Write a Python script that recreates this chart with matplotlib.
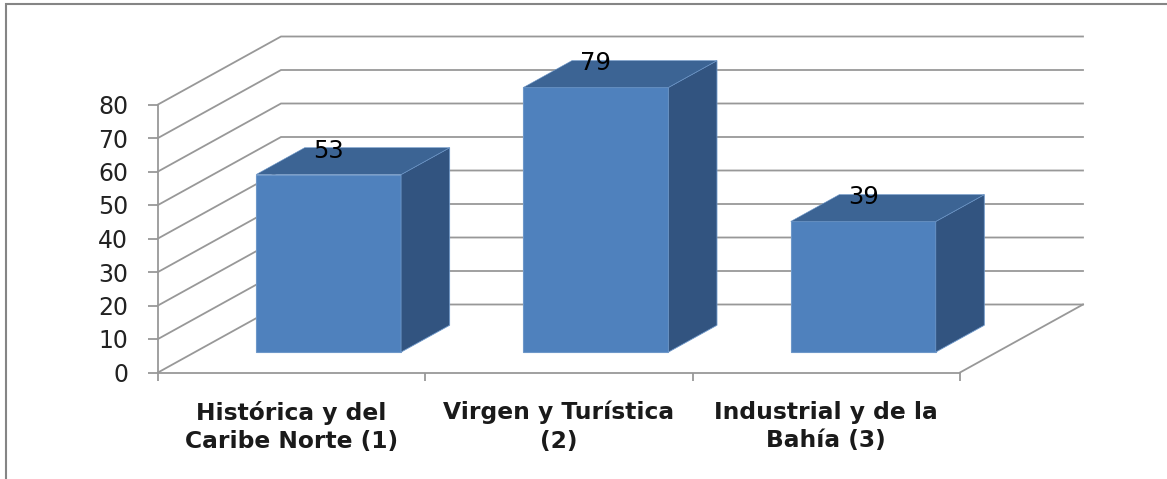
import numpy as np
import matplotlib as mpl
mpl.use('Agg')
import matplotlib.pyplot as plt
from matplotlib.patches import Polygon
from matplotlib.lines import Line2D

categories = ['Histórica y del\nCaribe Norte (1)', 'Virgen y Turística\n(2)', 'Industrial y de la\nBahía (3)']
values = [53, 79, 39]
y_ticks = [0, 10, 20, 30, 40, 50, 60, 70, 80]

front = '#4f81bd'
side = '#325480'
top = '#3c6494'
edge = '#6d97c9'
grid = '#989898'

W, H = 1167, 479
px_x = 267.33  # pixels per category
px_y = 3.35  # pixels per value unit
depth_x = 123 / px_x
depth_y = 68 / px_y
bar_w = 145 / px_x
bar_front = 0.30  # share of the depth where the bar starts
bar_back = 0.695


def project(x, y, d):
    return x + d * depth_x, y + d * depth_y


fig = plt.figure(figsize=(W / 100, H / 100), dpi=100)
ax = fig.add_axes([0, 0, 1, 1])
ax.set_xlim(-158 / px_x, (W - 158) / px_x)
ax.set_ylim(-(H - 372.5) / px_y, 372.5 / px_y)

for s in ['top', 'right']:
    ax.spines[s].set_visible(False)
for s in ['left', 'bottom']:
    ax.spines[s].set_position(('data', 0))
    ax.spines[s].set_color(grid)
    ax.spines[s].set_linewidth(1.3)
ax.spines['left'].set_bounds(0, 80)
ax.spines['bottom'].set_bounds(0, 3)

ax.set_yticks(y_ticks)
ax.set_yticklabels([str(v) for v in y_ticks], fontsize=17, color='#222222', family='DejaVu Sans')
ax.tick_params(axis='y', length=7.5, width=1.3, color=grid, pad=14)
ax.set_xticks([0, 1, 2, 3])
ax.set_xticklabels([])
ax.tick_params(axis='x', which='major', length=6, width=1.3, color=grid)
ax.set_xticks(np.arange(len(categories)) + 0.5, minor=True)
ax.set_xticklabels(categories, minor=True, fontsize=16.8, fontweight='bold', family='DejaVu Sans',
                   color='#1a1a1a', linespacing=1.3)
ax.tick_params(axis='x', which='minor', length=0, pad=20.5)

# walls
for v in y_ticks:
    bx, by = project(0, v, 1)
    ax.plot([0, bx, bx + 3], [v, by, by], color=grid, lw=1.3, zorder=1, solid_joinstyle='miter')
bx, by = project(3, 0, 1)
ax.plot([3, bx], [0, by], color=grid, lw=1.3, zorder=1)

# bars
for i, v in enumerate(values):
    x0 = i + 0.5 - bar_w / 2
    x1 = x0 + bar_w
    a = project(x0, 0, bar_front)
    b = project(x1, 0, bar_front)
    c = project(x1, v, bar_front)
    d = project(x0, v, bar_front)
    e = project(x1, 0, bar_back)
    f = project(x1, v, bar_back)
    g = project(x0, v, bar_back)
    ax.add_patch(Polygon([a, b, c, d], fc=front, ec=edge, lw=0.8, zorder=3))
    ax.add_patch(Polygon([b, e, f, c], fc=side, ec=edge, lw=0.6, zorder=3))
    ax.add_patch(Polygon([d, c, f, g], fc=top, ec=edge, lw=0.4, zorder=3))
    ax.text((a[0] + b[0]) / 2, d[1] + 24 / px_y, str(v), fontsize=17.5, ha='center', va='center',
            color='black', family='DejaVu Sans', zorder=5)

# outer frame, only top and left in the picture
fig.add_artist(Line2D([1, 5.5 / W, 5.5 / W], [1 - 4 / H, 1 - 4 / H, 0], transform=fig.transFigure,
                      color='#858585', lw=1.5, solid_joinstyle='miter'))

fig.savefig('out.png', dpi=100)
